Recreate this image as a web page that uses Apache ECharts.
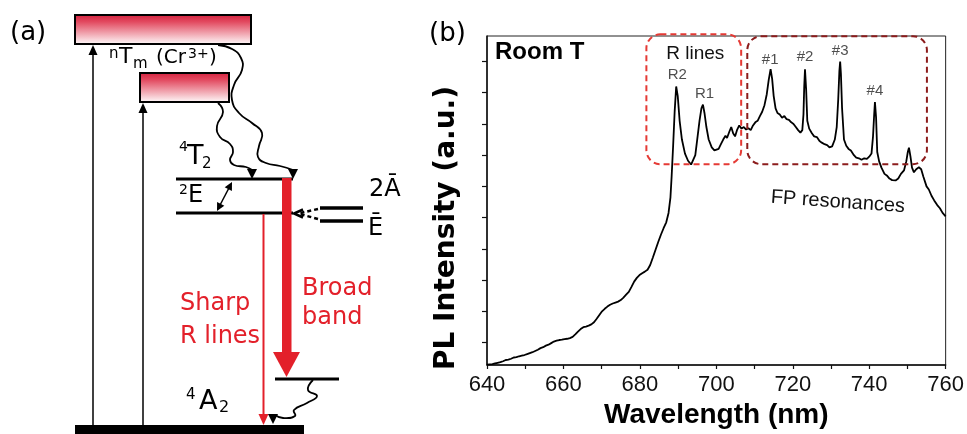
<!DOCTYPE html>
<html><head><meta charset="utf-8">
<script src="https://cdn.jsdelivr.net/npm/echarts@6/dist/echarts.min.js"></script>
<style>html,body{margin:0;padding:0;background:#fff}#c{width:967px;height:434px}</style>
</head><body><div id="c"></div>
<script>
// ---------- data (panel b) ----------
const wavelength = [
640,640.7,641.4,642.1,642.8,643.5,644.2,644.9,645.6,646.3,647,647.7,648.4,649.1,649.8,
650.5,651.2,651.9,652.6,653.3,654,654.7,655.4,656.1,656.8,657.5,658.2,658.9,659.6,
660.3,661,661.7,662.4,663.1,663.8,664.5,665.2,665.9,666.6,667.3,668,668.7,669.4,
670.1,670.8,671.5,672.2,672.9,673.6,674.3,675,675.7,676.4,677.1,677.8,678.5,679.2,679.9,
680.6,681.3,682,682.7,683.4,684.1,684.8,685.5,686.2,686.9,687.5,688,688.3,688.7,689.1,689.5,689.9,
690.4,691,691.8,692.6,693.4,693.9,694.5,695,695.6,696.1,696.5,696.9,697.4,698,698.8,699.5,
700,700.6,701.2,701.8,702.4,702.8,703.4,703.9,704.4,704.9,705.4,706,706.6,707.2,707.8,708.4,709,709.6,
710.2,710.8,711.4,712,712.6,713.2,713.7,714.2,714.6,715,715.5,716,716.6,717.2,717.8,718.4,719,719.6,
720.2,720.8,721.4,722,722.5,722.8,723,723.2,723.5,723.8,724.3,725,725.6,726.3,727,727.6,728.3,729,729.6,
730.3,731,731.5,731.9,732.2,732.4,732.6,732.9,733.4,734,734.6,735.2,736,736.6,737.3,738,738.7,739.4,
740,740.6,741,741.3,741.5,741.8,742.1,742.6,743.2,744,744.6,745.3,746,746.9,747.6,748.3,749.1,749.7,
750.1,750.4,750.8,751.2,751.7,752.3,753,753.6,754.2,755,755.6,756.3,757,757.8,758.5,759.2,760
];
const plIntensity = [
0.29,0.30,0.31,0.33,0.35,0.37,0.40,0.44,0.45,0.48,0.52,0.53,0.56,0.58,0.60,
0.63,0.66,0.69,0.73,0.77,0.82,0.85,0.90,0.93,0.98,1.03,1.06,1.08,1.09,
1.11,1.12,1.14,1.18,1.26,1.35,1.43,1.49,1.51,1.54,1.58,1.65,1.76,1.88,
2.00,2.08,2.15,2.21,2.25,2.28,2.31,2.36,2.44,2.53,2.62,2.78,2.95,3.07,3.16,
3.22,3.27,3.33,3.48,3.72,3.97,4.22,4.45,4.66,4.85,5.15,5.65,6.3,7.3,8.4,9.2,8.9,
8.1,7.5,7.05,6.82,6.7,6.72,7.0,7.5,8.1,8.5,8.62,8.35,7.9,7.5,7.25,7.15,
7.13,7.2,7.35,7.5,7.62,7.55,7.75,7.9,7.7,7.6,7.8,7.95,7.85,7.9,7.82,7.86,7.8,7.95,
8.05,8.1,8.25,8.39,8.6,8.95,9.4,9.75,9.45,8.9,8.5,8.35,8.3,8.2,8.25,8.15,8.13,8.05,
8.0,7.9,7.8,7.72,7.8,8.3,9.2,9.75,9.1,8.1,7.85,7.7,7.6,7.58,7.45,7.4,7.35,7.32,7.25,
7.28,7.5,7.9,8.8,9.7,10.0,9.6,8.5,7.5,7.3,7.2,7.15,7.0,6.92,6.9,6.85,6.9,6.88,
6.95,7.05,7.6,8.3,8.7,8.2,7.1,6.8,6.6,6.4,6.35,6.25,6.2,6.19,6.25,6.4,6.51,6.8,
7.1,7.24,6.95,6.6,6.45,6.55,6.61,6.55,6.3,6.0,5.9,5.7,5.55,5.4,5.3,5.15,5.04
];
const xTickLabels = [640, 660, 680, 700, 720, 740, 760];
const yTickValues = [1, 2, 3, 4, 5, 6, 7, 8, 9, 10];
const peakNames = ['R2', 'R1', '#1', '#2', '#3', '#4'];
const peakLabelWl = [689.8, 696.9, 714.1, 723.2, 732.4, 741.5];
const peakLabelVal = [9.56, 8.96, 10.06, 10.15, 10.34, 9.06];

// ---------- chart ----------
const chart = echarts.init(document.getElementById('c'));
const lineData = wavelength.map((w, i) => [w, plIntensity[i]]);
const peakData = peakNames.map((n, i) => [peakLabelWl[i], peakLabelVal[i], n]);
const yMin = 0.28, yMax = 10.815;

chart.setOption({
  animation: false,
  grid: { left: 487, top: 36, width: 460, height: 336, show: true, borderColor: '#222', borderWidth: 1 },
  xAxis: {
    type: 'value', min: 640, max: 760, interval: 10,
    axisLine: { onZero: false, lineStyle: { color: '#111', width: 1.5 } },
    axisTick: { length: 4, lineStyle: { color: '#111', width: 1.2 } },
    axisLabel: { formatter: v => xTickLabels.includes(v) ? String(v) : '', fontSize: 22, color: '#111', fontFamily: 'Liberation Sans', margin: 9 },
    splitLine: { show: false },
    name: 'Wavelength (nm)', nameLocation: 'middle', nameGap: 36,
    nameTextStyle: { fontFamily: 'Liberation Sans', fontWeight: 'bold', fontSize: 28, color: '#000' }
  },
  yAxis: {
    type: 'value', min: yMin, max: yMax,
    axisLine: { show: true, onZero: false, lineStyle: { color: '#111', width: 1.5 } },
    axisTick: { show: true, length: 5, customValues: yTickValues, lineStyle: { color: '#111', width: 1.2 } },
    axisLabel: { show: false },
    splitLine: { show: false },
    name: 'PL Intensity (a.u.)', nameLocation: 'middle', nameRotate: 90, nameGap: 26,
    nameTextStyle: { fontFamily: 'DejaVu Sans', fontWeight: 'bold', fontSize: 28, color: '#000', padding: [0, 55, 0, 0] }
  },
  series: [
    { type: 'line', data: lineData, showSymbol: false, symbol: 'none', lineStyle: { color: '#000', width: 1.8 }, z: 3 },
    { type: 'scatter', data: peakData, symbolSize: 0, silent: true,
      label: { show: true, position: 'inside', formatter: p => p.data[2], fontSize: 15, color: '#222', fontFamily: 'Liberation Sans' } }
  ]
});

// ---------- annotations ----------
const K = '#000', RED = '#e3202a';
function txt(x, y, t, size, opt) {
  return { type: 'text', x: x, y: y, silent: true, style: Object.assign({ text: t, fontSize: size, fontFamily: 'DejaVu Sans', fill: K, verticalAlign: 'middle', align: 'left' }, opt || {}) };
}
function ln(x1, y1, x2, y2, w, color, dash) {
  return { type: 'line', silent: true, shape: { x1: x1, y1: y1, x2: x2, y2: y2 }, style: { stroke: color || K, lineWidth: w, lineDash: dash || null } };
}
function tri(pts, color) { return { type: 'polygon', silent: true, shape: { points: pts }, style: { fill: color || K } }; }
function wave(pts) { return { type: 'polyline', silent: true, shape: { points: pts, smooth: 0.5 }, style: { stroke: K, lineWidth: 1.8, fill: null } }; }
function grad() {
  return new echarts.graphic.LinearGradient(0, 0, 0, 1, [
    { offset: 0, color: '#d31f3d' }, { offset: 0.25, color: '#e2495f' }, { offset: 1, color: '#ffffff' }]);
}

const panelA = [
  txt(10, 33, '(a)', 26),
  txt(429, 34, '(b)', 26),
  // excited bands
  { type: 'rect', silent: true, shape: { x: 75, y: 15, width: 176, height: 29 }, style: { fill: grad(), stroke: K, lineWidth: 2 } },
  { type: 'rect', silent: true, shape: { x: 140, y: 73, width: 89, height: 29 }, style: { fill: grad(), stroke: K, lineWidth: 2 } },
  // ground state bar
  { type: 'rect', silent: true, shape: { x: 75, y: 425, width: 229, height: 9 }, style: { fill: K } },
  // absorption arrows
  ln(93, 425, 93, 52, 1.5), tri([[88.5, 55], [97.5, 55], [93, 45]]),
  ln(143, 425, 143, 110, 1.5), tri([[138.5, 113], [147.5, 113], [143, 103]]),
  // nTm (Cr3+)
  txt(109, 54, 'n', 15), txt(119, 57, 'T', 22), txt(133, 64, 'm', 15),
  txt(156, 58, '(Cr', 20), txt(188, 54, '3+', 14), txt(209, 58, ')', 20),
  // 4T2
  txt(179, 147, '4', 14), txt(187, 157, 'T', 27), txt(202, 164, '2', 15),
  // 2E levels
  ln(176, 179, 293, 179, 3), ln(176, 213, 293, 213, 3),
  txt(179, 190, '2', 14), txt(188, 196, 'E', 24),
  ln(218.5, 208, 230.5, 185, 1.5),
  tri([[231.9, 190.9], [224.7, 187.3], [232, 182]]),
  tri([[224.3, 205.7], [217.1, 202.1], [217, 211]]),
  // non-radiative wavy arrows
  wave([[218, 45], [232, 49], [241, 58], [242, 70], [234, 85], [232, 100], [239, 113], [252, 123], [262, 133], [259, 146], [258, 157], [266, 163], [280, 166], [293, 170]]),
  tri([[288, 169], [298, 169], [293, 179]]),
  wave([[218, 103], [223, 112], [217, 126], [220, 137], [230, 144], [233, 152], [230, 160], [234, 165], [246, 167], [252, 170]]),
  tri([[247, 169], [257, 169], [252, 179]]),
  // broad band (thick red)
  { type: 'rect', silent: true, shape: { x: 282, y: 178, width: 9.5, height: 175 }, style: { fill: RED } },
  tri([[273, 352], [300, 352], [286.5, 377]], RED),
  // sharp R lines (thin red)
  ln(263.5, 214, 263.5, 415, 2, RED), tri([[258.5, 414], [268.5, 414], [263.5, 425]], RED),
  txt(180, 304, 'Sharp', 24, { fill: RED }), txt(180, 337, 'R lines', 24, { fill: RED }),
  txt(302, 289, 'Broad', 24, { fill: RED }), txt(302, 318, 'band', 24, { fill: RED }),
  // 4A2 vibronic level
  ln(275, 379, 339, 379, 3),
  txt(186, 395, '4', 15), txt(199, 402, 'A', 27), txt(219, 408, '2', 16),
  wave([[313, 380], [308, 390], [317, 396], [307, 403], [294, 410], [295, 416], [283, 418], [275, 415]]),
  tri([[268, 414], [278, 414], [273, 424]]),
  // 2A / E levels on the right
  ln(318, 209, 298, 213.5, 2.5, K, [4, 3]), ln(318, 219, 298, 213.5, 2.5, K, [4, 3]),
  { type: 'polyline', silent: true, shape: { points: [[303, 209.5], [294, 213.5], [303, 217.5]] }, style: { stroke: K, lineWidth: 2.5, fill: null } },
  ln(320, 208, 363, 208, 3.5), ln(320, 221, 363, 221, 3.5),
  txt(369, 190, '2Ā', 24), txt(368, 229, 'Ē', 24)
];

// dashed boxes and panel-b texts placed in data coordinates
const rBox = [681.7, 706.5, 6.71, 10.87];
const fpBox = [708.1, 755.1, 6.71, 10.81];
function boxRect(b, color) {
  const p0 = chart.convertToPixel({ gridIndex: 0 }, [b[0], b[3]]);
  const p1 = chart.convertToPixel({ gridIndex: 0 }, [b[1], b[2]]);
  return { type: 'rect', silent: true, z: 10, shape: { x: p0[0], y: p0[1], width: p1[0] - p0[0], height: p1[1] - p0[1], r: 14 },
    style: { fill: null, stroke: color, lineWidth: 2, lineDash: [6, 4] } };
}
function dataText(pos, t, size, opt, rot) {
  const p = chart.convertToPixel({ gridIndex: 0 }, pos);
  const el = txt(p[0], p[1], t, size, Object.assign({ fontFamily: 'Liberation Sans', align: 'center', fill: '#111' }, opt || {}));
  if (rot) el.rotation = rot;
  el.z = 11;
  return el;
}
const panelB = [
  boxRect(rBox, '#e53a35'),
  boxRect(fpBox, '#8c1c1c'),
  dataText([642.1, 10.28], 'Room T', 24, { fontWeight: 'bold', align: 'left', fill: '#000' }),
  dataText([694.5, 10.26], 'R lines', 19),
  dataText([731.8, 5.5], 'FP resonances', 20, null, -0.07)
];

chart.setOption({ graphic: { elements: panelA.concat(panelB) } });
</script>
</body></html>
